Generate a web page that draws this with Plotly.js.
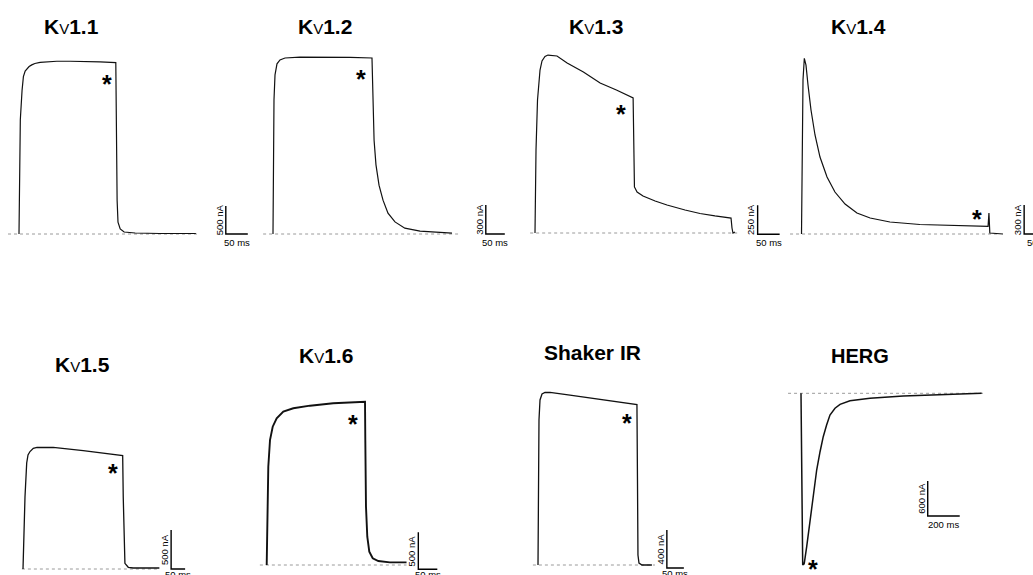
<!DOCTYPE html>
<html><head><meta charset="utf-8">
<script src="https://cdn.plot.ly/plotly-3.0.1.min.js"></script>
<style>html,body{margin:0;padding:0;background:#fff}</style>
</head><body><div id="chart" style="width:1033px;height:575px"></div>
<script>
// ---------------- DATA (time in ms, current in nA) ----------------
const panelNames = ["Kv1.1", "Kv1.2", "Kv1.3", "Kv1.4", "Kv1.5", "Kv1.6", "Shaker IR", "HERG"];

const kv11Time = [0,1,3,7,10,14,18,23,29,36,48,66,86,116,146,184,220,221.5,223,225,230,239,264,320,402];
const kv11Current = [0,960,2040,2570,2810,2910,2950,2990,3020,3045,3065,3080,3085,3085,3085,3075,3060,1500,600,210,90,35,18,9,9];

const kv12Time = [0,1.3,2.6,5.3,10.5,18.4,31.6,71,150,203,260.5,263,264.5,266,271,279,289.5,302.6,321,347,387,471];
const kv12Current = [0,870,1385,1645,1760,1800,1820,1830,1830,1827,1820,1490,1180,970,715,505,350,215,125,60,30,10];

const kv13Time = [0,2.3,5.7,11.4,15.9,22.7,29.5,38.6,50,73,110,148,185,223,225,226,232,245.5,273,300,341,375,409,445.5,447.7,450,454.5];
const kv13Current = [0,716,1147,1405,1483,1522,1534,1530,1526,1466,1388,1293,1233,1164,716,397,353,319,276,241,198,168,147,129,43,0,9];

const kv14Time = [0,1.1,3.4,6.4,10.2,14.8,21.6,30.7,42,58,76,99,126,156,201,269,337,417,424,426,428,458];
const kv14Current = [0,869,1593,1817,1747,1541,1282,1024,796,589,434,310,217,165,124,98,88,83,78,217,10,0];

const kv15Time = [0,3.6,7.1,13.2,17.9,25,36.8,50,60.7,108,215,356,358,360.7,364,376,394,487];
const kv15Current = [0,500,923,1359,1462,1506,1547,1558,1560,1560,1517,1453,923,282,73,22,13,13];

const kv16Time = [0,1.6,4.2,8.7,15.8,26.3,43.7,70,114,175,258.7,259.5,261.3,264.7,270,279,293.7,324,368];
const kv16Current = [0,788,1328,1689,1869,1982,2072,2118,2153,2185,2207,1689,788,382,180,91,54,36,36];

const shakerTime = [0,0.9,2.9,5.9,11.8,20.6,35.3,94,182,291,292.6,294,297,306,335];
const shakerCurrent = [0,895,1526,1737,1800,1816,1816,1789,1747,1689,895,105,21,0,0];

const hergTime = [0,3.1,6.3,10.6,18.8,20.6,35.6,56,77,98,119,139,160,181,212.5,244,306,431,639,848,1129];
const hergCurrent = [0,-972,-2173,-2945,-2930,-2911,-2631,-2173,-1710,-1316,-1002,-744,-544,-372,-257,-189,-127,-86,-46,-24,0];

// zero-current reference line extent (ms)
const baselineStart = [-25, -26, -11, -26, -4, -18, -15, -81];
const baselineEnd = [411, 487, 466, 451, 486, 368, 344, 1150];

// scale bars: size and corner (ms, nA)
const scaleTime = [50, 50, 50, 50, 50, 50, 50, 200];
const scaleCurrent = [500, 300, 250, 300, 500, 500, 400, 600];
const scaleOriginTime = [470, 560, 506, 506, 529, 399, 379, 792];
const scaleOriginCurrent = [0, 0, -11, 0, 0, -58, -32, -2105];

// asterisk marks (ms, nA)
const asteriskTime = [200, 232, 195.5, 399, 321, 227, 262, 73];
const asteriskCurrent = [2786, 1675, 1086, 227, 1308, 2000, 1568, -2894];

const traceTimes = [kv11Time, kv12Time, kv13Time, kv14Time, kv15Time, kv16Time, shakerTime, hergTime];
const traceCurrents = [kv11Current, kv12Current, kv13Current, kv14Current, kv15Current, kv16Current, shakerCurrent, hergCurrent];

// ---------------- LAYOUT GEOMETRY (pixels) ----------------
const W = 1033, H = 575;
// box [L,R,T,B], time-zero pixel, px per ms, baseline pixel, px per nA
const geom = [
  {box:[0,258,40,250],    x0:19,    sx:0.44, yb:234,   sy:0.056},
  {box:[258,516,40,250],  x0:273,   sx:0.38, yb:234,   sy:0.0967},
  {box:[516,785,40,250],  x0:535,   sx:0.44, yb:233,   sy:0.116},
  {box:[785,1033,40,250], x0:801.5, sx:0.44, yb:234,   sy:0.0967},
  {box:[0,258,380,575],   x0:23,    sx:0.28, yb:569,   sy:0.078},
  {box:[258,516,380,575], x0:266.7, sx:0.38, yb:565,   sy:0.074},
  {box:[516,785,380,575], x0:538,   sx:0.34, yb:565,   sy:0.095},
  {box:[785,1033,370,575],x0:801,   sx:0.16, yb:393.3, sy:0.0583}
];
const titlePos = [[71.5,26],[325,26],[596,26],[858,26],[82.5,364],[326,355],[592,352],[860,356]];
const lineWidths = [1.2,1.2,1.2,1.2,1.3,1.9,1.3,1.5];
const msLabelShift = [-8.5,-8.5,-8.5,-8.5,-5,-5,-5,-8.5];

const traces = [];
const annotations = [];
const layout = {
  width: W, height: H, margin:{l:0,r:0,t:0,b:0,pad:0},
  paper_bgcolor:'#fff', plot_bgcolor:'rgba(0,0,0,0)', showlegend:false,
  font:{family:'Liberation Sans, Arial, sans-serif', color:'#000'}
};

function fmtTitle(name){
  if (name.startsWith('Kv')) {
    return '<b>K</b><span style="font-size:15px;font-weight:normal">V</span><b>' + name.slice(2) + '</b>';
  }
  return '<b>' + name + '</b>';
}

panelNames.forEach((name, i) => {
  const g = geom[i];
  const sfx = i === 0 ? '' : String(i + 1);
  const xa = 'x' + sfx, ya = 'y' + sfx;
  const [L, R, T, B] = g.box;
  layout['xaxis' + sfx] = {
    domain:[L / W, R / W], range:[(L - g.x0) / g.sx, (R - g.x0) / g.sx],
    visible:false, fixedrange:true, anchor: ya
  };
  layout['yaxis' + sfx] = {
    domain:[1 - B / H, 1 - T / H], range:[(g.yb - B) / g.sy, (g.yb - T) / g.sy],
    visible:false, fixedrange:true, anchor: xa
  };
  // zero line
  traces.push({x:[baselineStart[i], baselineEnd[i]], y:[0, 0], xaxis:xa, yaxis:ya,
    mode:'lines', line:{color:'#9a9a9a', width:1, dash:'dot'}, hoverinfo:'skip'});
  // current trace
  traces.push({x:traceTimes[i], y:traceCurrents[i], xaxis:xa, yaxis:ya,
    mode:'lines', line:{color:'#111', width:lineWidths[i]}, hoverinfo:'skip'});
  // scale bar
  const t0 = scaleOriginTime[i], c0 = scaleOriginCurrent[i];
  traces.push({x:[t0, t0, t0 + scaleTime[i]], y:[c0 + scaleCurrent[i], c0, c0], xaxis:xa, yaxis:ya,
    mode:'lines', line:{color:'#000', width:1.4}, hoverinfo:'skip'});
  const small = {family:'Liberation Sans Narrow, Arial Narrow, Liberation Sans, sans-serif', size:9.5, color:'#000'};
  annotations.push({xref:xa, yref:ya, x:t0, y:c0 + scaleCurrent[i] / 2, text:scaleCurrent[i] + ' nA',
    textangle:-90, showarrow:false, xanchor:'center', yanchor:'middle', xshift:-6.5, font:small});
  if (i === 3) {
    annotations.push({xref:xa, yref:ya, x:t0, y:c0, text:scaleTime[i] + ' ms', showarrow:false,
      xanchor:'left', yanchor:'middle', xshift:0.5, yshift:msLabelShift[i], font:small});
  } else {
    annotations.push({xref:xa, yref:ya, x:t0 + scaleTime[i] / 2, y:c0, text:scaleTime[i] + ' ms', showarrow:false,
      xanchor:'center', yanchor:'middle', yshift:msLabelShift[i], font:small});
  }
  // asterisk
  annotations.push({xref:xa, yref:ya, x:asteriskTime[i], y:asteriskCurrent[i], text:'<b>*</b>', showarrow:false,
    xanchor:'center', yanchor:'middle', yshift:-6.5, font:{family:'Liberation Sans, Arial', size:25, color:'#000'}});
  // title
  annotations.push({xref:'paper', yref:'paper', x:titlePos[i][0] / W, y:1 - titlePos[i][1] / H,
    text:fmtTitle(name), showarrow:false, xanchor:'center', yanchor:'middle',
    font:{family:'Liberation Sans, Arial, sans-serif', size: name === 'HERG' ? 20 : 21, color:'#000'}});
});
layout.annotations = annotations;

Plotly.newPlot('chart', traces, layout, {staticPlot:true, displayModeBar:false});
</script></body></html>
